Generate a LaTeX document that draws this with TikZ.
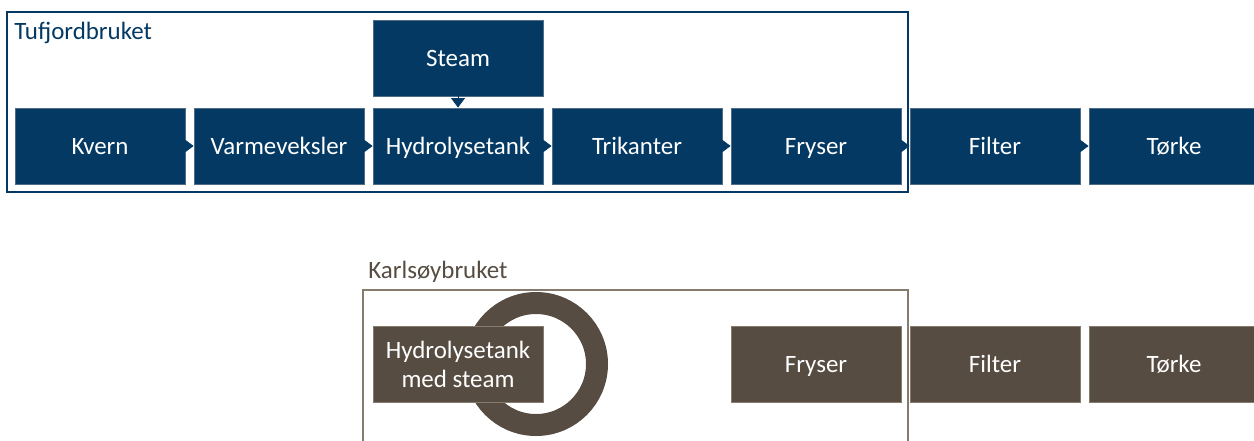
\documentclass[tikz,border=0pt]{standalone}
\usepackage{fontspec}
\setmainfont{Carlito}
\usetikzlibrary{arrows.meta}
\definecolor{tufblue}{RGB}{3,57,99}
\definecolor{tufedge}{RGB}{80,108,135}
\definecolor{karlbrown}{RGB}{86,76,66}
\definecolor{karledge}{RGB}{135,123,110}

\begin{document}
\begin{tikzpicture}[x=0.02cm, y=-0.02cm,
        basebox/.style={rectangle, fill=tufblue, draw=tufedge, line width=0.5pt,
            minimum width=3.4cm, minimum height=1.52cm, inner sep=0pt,
            text=white, align=center, font=\fontsize{14.2}{16.5}\selectfont},
        bluebox/.style={basebox, text height=2.4ex, text depth=0.4ex},
        brownbox/.style={bluebox, fill=karlbrown, draw=karledge},
        flow/.style={tufblue, line width=0.4pt, -{Triangle[length=0.19cm, width=0.28cm]}},
        label/.style={anchor=west, inner sep=0pt, font=\fontsize{14.2}{16.5}\selectfont}]
    \useasboundingbox (0,0) rectangle (1254,440);

    % Tufjordbruket
    \draw [tufblue, line width=1.2pt] (7,12) rectangle (908,192);
    \node[label, text=tufblue] at (14,33) (tuflabel) {Tufjordbruket};

    \node[bluebox] at (458,58)   (steam) {Steam};
    \node[bluebox] at (100,146)  (kvern) {Kvern};
    \node[bluebox] at (279,146)  (varme) {Varmeveksler};
    \node[bluebox] at (458,146)  (hydro) {Hydrolysetank};
    \node[bluebox] at (637,146)  (trikanter) {Trikanter};
    \node[bluebox] at (816,146)  (fryser) {Fryser};
    \node[bluebox] at (995,146)  (filter) {Filter};
    \node[bluebox] at (1174,146) (torke) {Tørke};

    \draw [flow] (kvern) -- (varme);
    \draw [flow] (varme) -- (hydro);
    \draw [flow] (hydro) -- (trikanter);
    \draw [flow] (trikanter) -- (fryser);
    \draw [flow] (fryser) -- (filter);
    \draw [flow] (filter) -- (torke);
    \draw [flow] (steam) -- (hydro);

    % Karlsøybruket
    \draw [karledge, line width=1.2pt] (363,460) -- (363,290) -- (908,290) -- (908,460);
    \node[label, text=karlbrown] at (368,272) (karllabel) {Karlsøybruket};

    \coordinate (ringc) at (536,364);
    \draw [karlbrown, line width=0.44cm] (ringc) circle (61);

    \node[basebox, fill=karlbrown, draw=karledge] at (458,364) (hydrosteam) {Hydrolysetank\\med steam};
    \node[brownbox] at (816,364)  (fryser2) {Fryser};
    \node[brownbox] at (995,364)  (filter2) {Filter};
    \node[brownbox] at (1174,364) (torke2) {Tørke};
\end{tikzpicture}
\end{document}
